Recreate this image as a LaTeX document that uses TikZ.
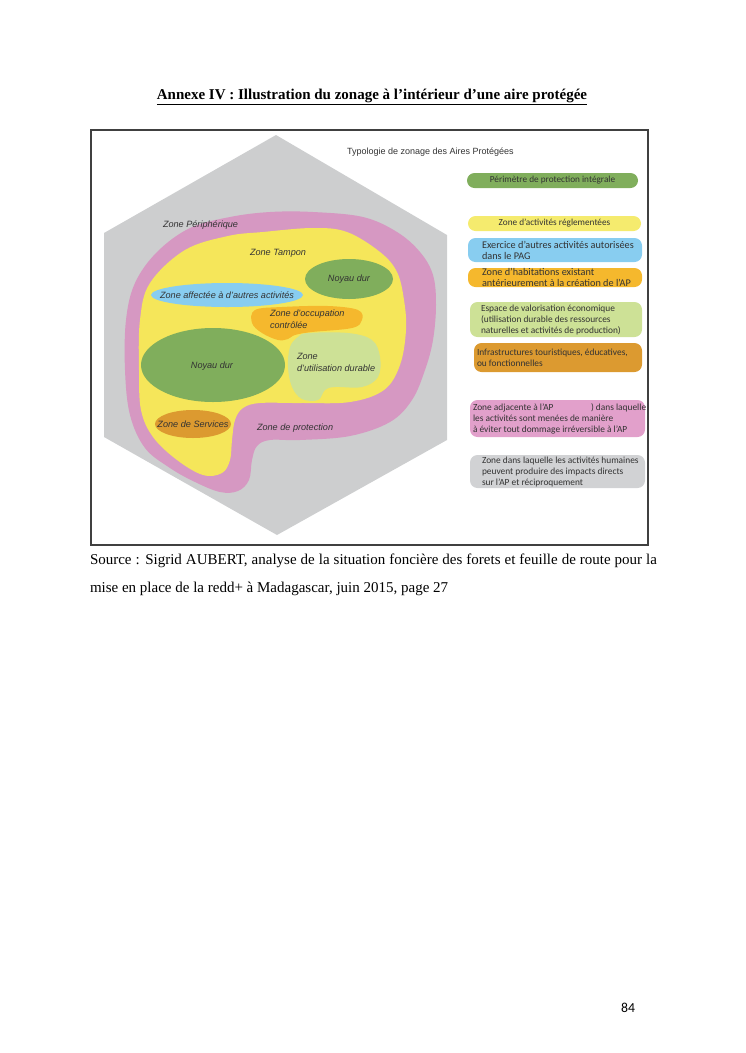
\documentclass[tikz,border=0pt]{standalone}
\usepackage{fontspec}
\setmainfont{Liberation Serif}
\setsansfont{Liberation Sans}
\newfontfamily\legfont{Carlito}
\usetikzlibrary{
  calc,
  positioning,
}
\definecolor{hexgray}{HTML}{CDCECF}
\definecolor{zonepink}{HTML}{D698C2}
\definecolor{zoneyellow}{HTML}{F5E65A}
\definecolor{noyaugreen}{HTML}{80AE5C}
\definecolor{zoneblue}{HTML}{88CDF0}
\definecolor{zoneorange}{HTML}{F5B82D}
\definecolor{lightgreen}{HTML}{CDE196}
\definecolor{darkorange}{HTML}{DC9A30}
\definecolor{legpink}{HTML}{E2A0CB}
\definecolor{leggray}{HTML}{D1D2D4}
\definecolor{legyellow}{HTML}{F5EB6E}
\tikzset{
  zone/.style={font=\sffamily\itshape\fontsize{7.3}{9.6}\selectfont,
    text=black!80, inner sep=0pt, align=left},
  legbox/.style={rounded corners=6pt, inner sep=0pt,
    font=\legfont\fontsize{7.4}{8.8}\selectfont, text=black!80},
  legtext/.style={anchor=west, inner sep=0pt, align=left,
    font=\legfont\fontsize{7.5}{8.8}\selectfont, text=black!80},
  bigtext/.style={legtext, font=\legfont\fontsize{8.2}{8.8}\selectfont},
}

\begin{document}
\begin{tikzpicture}[x=0.8pt,y=-0.8pt,
    every node/.style={outer sep=0pt}
  ]
  \useasboundingbox (0,0) rectangle (745,1053);

  \node[font=\bfseries\fontsize{12}{14}\selectfont] (title) at (372,97)
    {\underline{Annexe IV : Illustration du zonage à l’intérieur d’une aire protégée}};

  \draw[line width=1.1pt, black!75] (91,130) rectangle (648,545);

  % zones
  \fill[hexgray] (276,135) -- (447,235) -- (447,440) -- (277,535)
    -- (104,437) -- (104,233) -- cycle;
  \fill[zonepink] plot[smooth cycle, tension=0.6] coordinates {
    (190,228) (230,217) (270,212) (313,212) (363,217) (397,232) (420,252)
    (433,275) (436,305) (433,340) (425,370) (412,400) (390,422) (350,436)
    (300,440) (270,440) (257,446) (252,460) (249,480) (238,491) (220,492)
    (195,482) (170,468) (145,448) (130,415) (125,370) (126,320) (135,283)
    (157,252)};
  \fill[zoneyellow] plot[smooth cycle, tension=0.6] coordinates {
    (185,250) (228,236) (263,232) (313,228) (347,232) (380,252) (397,272)
    (404,300) (406,330) (400,365) (384,390) (350,402) (300,403) (260,403)
    (243,408) (235,420) (232,440) (230,460) (222,473) (203,475) (177,460)
    (153,437) (141,410) (139,370) (140,320) (150,283)};
  \fill[noyaugreen] (349,279) ellipse [x radius=44, y radius=20];
  \fill[zoneblue] (227,295) ellipse [x radius=76, y radius=12];
  \fill[zoneorange] plot[smooth cycle, tension=0.6] coordinates {
    (255,310) (282,307) (328,306) (358,310) (362,320) (352,328) (312,332)
    (295,335) (288,339) (278,340) (262,333) (252,323)};
  \fill[noyaugreen] (213,365) ellipse [x radius=72, y radius=37];
  \fill[lightgreen] plot[smooth cycle, tension=0.6] coordinates {
    (308,333) (348,333) (372,340) (380,357) (378,377) (362,387) (335,387)
    (325,390) (318,400) (302,399) (292,387) (288,367) (290,347) (298,337)};
  \fill[darkorange] (193,424) ellipse [x radius=38, y radius=14];

  \node[zone, anchor=west] (periph) at (163,225) {Zone Périphérique};
  \node[zone] (tampon) at (278,253) {Zone Tampon};
  \node[zone] (noyau1) at (349,279) {Noyau dur};
  \node[zone] (affect) at (227,295) {Zone affectée à d’autres activités};
  \node[zone, anchor=west] (occup) at (270,319) {Zone d’occupation\\contrôlée};
  \node[zone] (noyau2) at (212,366) {Noyau dur};
  \node[zone, anchor=west] (durable) at (297,362) {Zone\\d’utilisation durable};
  \node[zone] (services) at (193,424) {Zone de Services};
  \node[zone, anchor=west] (protect) at (257,428) {Zone de protection};

  % legend
  \node[font=\sffamily\fontsize{7.2}{9}\selectfont, text=black!80, anchor=west]
    (typo) at (343,152) {Typologie de zonage des Aires Protégées};
  \node[legbox, fill=noyaugreen, minimum width=136.8pt, minimum height=12pt]
    (perim) at (552.5,180.5) {Périmètre de protection intégrale};
  \node[legbox, fill=legyellow, minimum width=138.4pt, minimum height=12pt]
    (regl) at (554.5,223.5) {Zone d’activités réglementées};
  \node[legbox, fill=zoneblue, minimum width=139.2pt, minimum height=19.2pt]
    (autres) at (555,250) {};
  \node[legbox, fill=zoneorange, minimum width=139.2pt, minimum height=15.2pt]
    (habit) at (555,277.5) {};
  \node[legbox, fill=lightgreen, minimum width=137.6pt, minimum height=28pt]
    (valor) at (556,319.5) {};
  \node[legbox, fill=darkorange, minimum width=134.4pt, minimum height=23.2pt]
    (infra) at (558,357.5) {};
  \node[legbox, fill=legpink, minimum width=140pt, minimum height=29.6pt]
    (adjac) at (557.5,418.5) {};
  \node[legbox, fill=leggray, minimum width=140pt, minimum height=26.4pt]
    (impact) at (557.5,471.5) {};

  \node[bigtext] (autrestxt) at ([xshift=11.2pt]autres.west)
    {Exercice d’autres activités autorisées\\dans le PAG};
  \node[bigtext] (habittxt) at ([xshift=11.2pt]habit.west)
    {Zone d’habitations existant\\antérieurement à la création de l’AP};
  \node[legtext] (valortxt) at ([xshift=8.8pt]valor.west)
    {Espace de valorisation économique\\(utilisation durable des ressources\\naturelles et activités de production)};
  \node[legtext] (infratxt) at ([xshift=2.4pt]infra.west)
    {Infrastructures touristiques, éducatives,\\ou fonctionnelles};
  \node[legtext] (adjactxt) at ([xshift=2.4pt]adjac.west)
    {Zone adjacente à l’AP\hspace*{30pt}) dans laquelle\\les activités sont menées de manière\\à éviter tout dommage irréversible à l’AP};
  \node[legtext] (impacttxt) at ([xshift=9.6pt]impact.west)
    {Zone dans laquelle les activités humaines\\peuvent produire des impacts directs\\sur l’AP et réciproquement};

  % source
  \node[anchor=west, inner sep=0pt, font=\fontsize{12}{14}\selectfont] (src1) at (90,561)
    {\makebox[453.6pt][s]{Source : Sigrid AUBERT, analyse de la situation foncière des forets et feuille de route pour la}};
  \node[anchor=west, inner sep=0pt, font=\fontsize{12}{14}\selectfont] (src2) at (90,589)
    {mise en place de la redd+ à Madagascar, juin 2015, page 27};

  \node[font=\legfont\fontsize{11}{13}\selectfont] (pagenum) at (628,1008) {84};
\end{tikzpicture}
\end{document}
